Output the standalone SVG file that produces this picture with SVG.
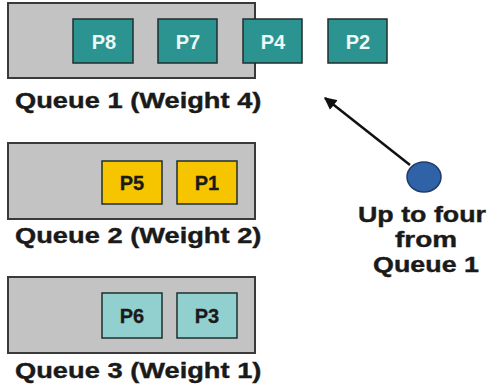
<svg xmlns="http://www.w3.org/2000/svg" width="489" height="392" viewBox="0 0 489 392">
  <defs>
    <style>
      .queue { fill: #c3c3c3; stroke: #3a3a3a; stroke-width: 2; }
      .pkt { stroke: #1f2f2f; stroke-width: 1.5; }
      .q1 { fill: #2b9490; }
      .q2 { fill: #f7c500; }
      .q3 { fill: #92d0cf; }
      .pl { font-family: "Liberation Sans", Arial, sans-serif; font-weight: bold; font-size: 20px; text-anchor: middle; }
      .pl1 { fill: #eef8f7; }
      .pl2, .pl3 { fill: #1a1a1a; stroke: #1a1a1a; stroke-width: 0.3; }
      .lbl { font-family: "Liberation Sans", Arial, sans-serif; font-weight: bold; font-size: 22px; fill: #1a1a1a; stroke: #1a1a1a; stroke-width: 0.4; }
      .note { font-family: "Liberation Sans", Arial, sans-serif; font-weight: bold; font-size: 22px; fill: #1a1a1a; stroke: #1a1a1a; stroke-width: 0.4; text-anchor: middle; }
    </style>
    <marker id="head" viewBox="0 0 10 10" refX="9" refY="5" markerWidth="5" markerHeight="5" orient="auto">
      <path d="M0,0 L10,5 L0,10 z" fill="#111"/>
    </marker>
  </defs>
  <rect width="489" height="392" fill="#ffffff"/>

  <!-- Queue 1 -->
  <g id="queue1">
    <rect class="queue" x="8" y="3" width="247" height="75"/>
    <text class="lbl" transform="translate(15,108) scale(1.24,1)">Queue 1 (Weight 4)</text>
  </g>
  <g id="p8"><rect class="pkt q1" x="73" y="19" width="60" height="44"/><text class="pl pl1" x="104" y="48.5">P8</text></g>
  <g id="p7"><rect class="pkt q1" x="158" y="19" width="59" height="44"/><text class="pl pl1" x="188" y="48.5">P7</text></g>
  <g id="p4"><rect class="pkt q1" x="243" y="19" width="59" height="44"/><text class="pl pl1" x="273" y="48.5">P4</text></g>
  <g id="p2"><rect class="pkt q1" x="328" y="19" width="59" height="44"/><text class="pl pl1" x="358" y="48.5">P2</text></g>

  <!-- Queue 2 -->
  <g id="queue2">
    <rect class="queue" x="8" y="143" width="247" height="76"/>
    <text class="lbl" transform="translate(15,243) scale(1.24,1)">Queue 2 (Weight 2)</text>
  </g>
  <g id="p5"><rect class="pkt q2" x="102" y="161" width="60" height="43"/><text class="pl pl2" x="132" y="190">P5</text></g>
  <g id="p1"><rect class="pkt q2" x="177" y="161" width="60" height="43"/><text class="pl pl2" x="207" y="190">P1</text></g>

  <!-- Queue 3 -->
  <g id="queue3">
    <rect class="queue" x="8" y="277" width="247" height="76"/>
    <text class="lbl" transform="translate(15,378) scale(1.24,1)">Queue 3 (Weight 1)</text>
  </g>
  <g id="p6"><rect class="pkt q3" x="102" y="293" width="60" height="45"/><text class="pl pl3" x="132" y="323">P6</text></g>
  <g id="p3"><rect class="pkt q3" x="177" y="293" width="60" height="45"/><text class="pl pl3" x="207" y="323">P3</text></g>

  <!-- Scheduler -->
  <g id="scheduler">
    <ellipse cx="424" cy="177" rx="17" ry="15" fill="#2f62a6" stroke="#1c3c6a" stroke-width="1.5"/>
    <text class="note" transform="translate(422,222) scale(1.22,1)">Up to four</text>
    <text class="note" transform="translate(426,247) scale(1.27,1)">from</text>
    <text class="note" transform="translate(426,272) scale(1.22,1)">Queue 1</text>
  </g>

  <g id="connectors">
    <line x1="410" y1="165" x2="325" y2="98" stroke="#111" stroke-width="2.5" marker-end="url(#head)"/>
  </g>
</svg>
